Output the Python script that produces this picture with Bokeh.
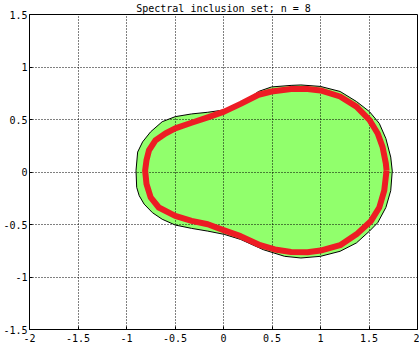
from bokeh.plotting import figure
from bokeh.models import FixedTicker
from bokeh.embed import file_html
from bokeh.resources import INLINE

# Outer boundary of the inclusion set (green, black outline)
set_x = [1.74, 1.724, 1.674, 1.606, 1.505, 1.371, 1.202, 1.0, 0.798, 0.697, 0.495, 0.361, 0.242, 0.007,
         -0.162, -0.329, -0.498, -0.632, -0.751, -0.834, -0.885, -0.902, -0.895, -0.869, -0.818, -0.733,
         -0.632, -0.498, -0.329, -0.162, 0.007, 0.176, 0.411, 0.630, 0.798, 1.0, 1.202, 1.371, 1.505,
         1.590, 1.674, 1.724]
set_y = [0.01, 0.142, 0.319, 0.463, 0.575, 0.671, 0.767, 0.815, 0.829, 0.825, 0.810, 0.767, 0.688, 0.591,
         0.569, 0.553, 0.527, 0.479, 0.383, 0.287, 0.190, 0.014, -0.146, -0.226, -0.306, -0.387,
         -0.450, -0.505, -0.537, -0.563, -0.594, -0.642, -0.74, -0.803, -0.819, -0.803, -0.755, -0.675, -0.563,
         -0.483, -0.338, -0.178]

# Red curve
curve_x = [1.681, 1.674, 1.640, 1.590, 1.505, 1.371, 1.202, 1.0, 0.866, 0.697, 0.495, 0.361, 0.176, 0.007,
           -0.162, -0.329, -0.498, -0.599, -0.700, -0.768, -0.794, -0.808, -0.794, -0.751, -0.667, -0.498,
           -0.329, -0.162, 0.007, 0.176, 0.378, 0.529, 0.697, 0.866, 1.0, 1.202, 1.371, 1.521, 1.606, 1.657, 1.681]
curve_y = [0.014, 0.079, 0.238, 0.367, 0.495, 0.623, 0.719, 0.777, 0.790, 0.790, 0.767, 0.736, 0.649, 0.575,
           0.521, 0.469, 0.415, 0.367, 0.303, 0.207, 0.111, 0.014, -0.113, -0.242, -0.338, -0.418,
           -0.466, -0.498, -0.556, -0.611, -0.697, -0.738, -0.762, -0.764, -0.748, -0.697, -0.594, -0.466, -0.338, -0.178, 0.014]

xticks = [-2.0, -1.5, -1.0, -0.5, 0.0, 0.5, 1.0, 1.5, 2.0]
xtick_labels = ["-2", "-1.5", "-1", "-0.5", "0", "0.5", "1", "1.5", "2"]
yticks = [-1.5, -1.0, -0.5, 0.0, 0.5, 1.0, 1.5]
ytick_labels = ["-1.5", "-1", "-0.5", "0", "0.5", "1", "1.5"]
title_text = "Spectral inclusion set; n = 8"

FONT = "DejaVu Sans Mono"

p = figure(width=419, height=344, x_range=(-2, 2), y_range=(-1.5, 1.5),
           output_backend="svg", toolbar_location=None, title=title_text,
           min_border_left=0, min_border_right=2, min_border_top=0, min_border_bottom=0)
p.background_fill_color = "white"
p.border_fill_color = "white"
p.outline_line_color = "black"
p.outline_line_width = 1
p.outline_line_alpha = 1

p.title.text_font = FONT
p.title.text_font_size = "10px"
p.title.text_font_style = "normal"
p.title.text_color = "black"
p.title.align = "center"
p.title.standoff = 1
p.title.offset = 0

p.patch(set_x + [set_x[0]], set_y + [set_y[0]], fill_color="#91ff6c", line_color="black",
        line_width=1, level="image")
p.line(curve_x, curve_y, line_color="#ed1c24", line_width=6, line_join="round")

for ax in (p.xaxis, p.yaxis):
    ax.axis_line_color = "black"
    ax.major_tick_in = 3
    ax.major_tick_out = 0
    ax.minor_tick_line_color = None
    ax.major_tick_line_color = "black"
    ax.major_label_text_font = FONT
    ax.major_label_text_font_size = "10px"
    ax.major_label_text_color = "black"

p.xaxis.ticker = FixedTicker(ticks=xticks)
p.xaxis.major_label_overrides = dict(zip(xticks, xtick_labels))
p.xaxis.major_label_standoff = 4

p.yaxis.ticker = FixedTicker(ticks=yticks)
p.yaxis.major_label_overrides = dict(zip(yticks, ytick_labels))
p.yaxis.major_label_standoff = 2

p.xgrid.ticker = FixedTicker(ticks=xticks)
p.ygrid.ticker = FixedTicker(ticks=yticks)
for g in (p.xgrid, p.ygrid):
    g.grid_line_color = "black"
    g.grid_line_alpha = 1
    g.grid_line_dash = "1 2"
    g.grid_line_width = 1

open("out.html", "w").write(file_html(p, INLINE))
